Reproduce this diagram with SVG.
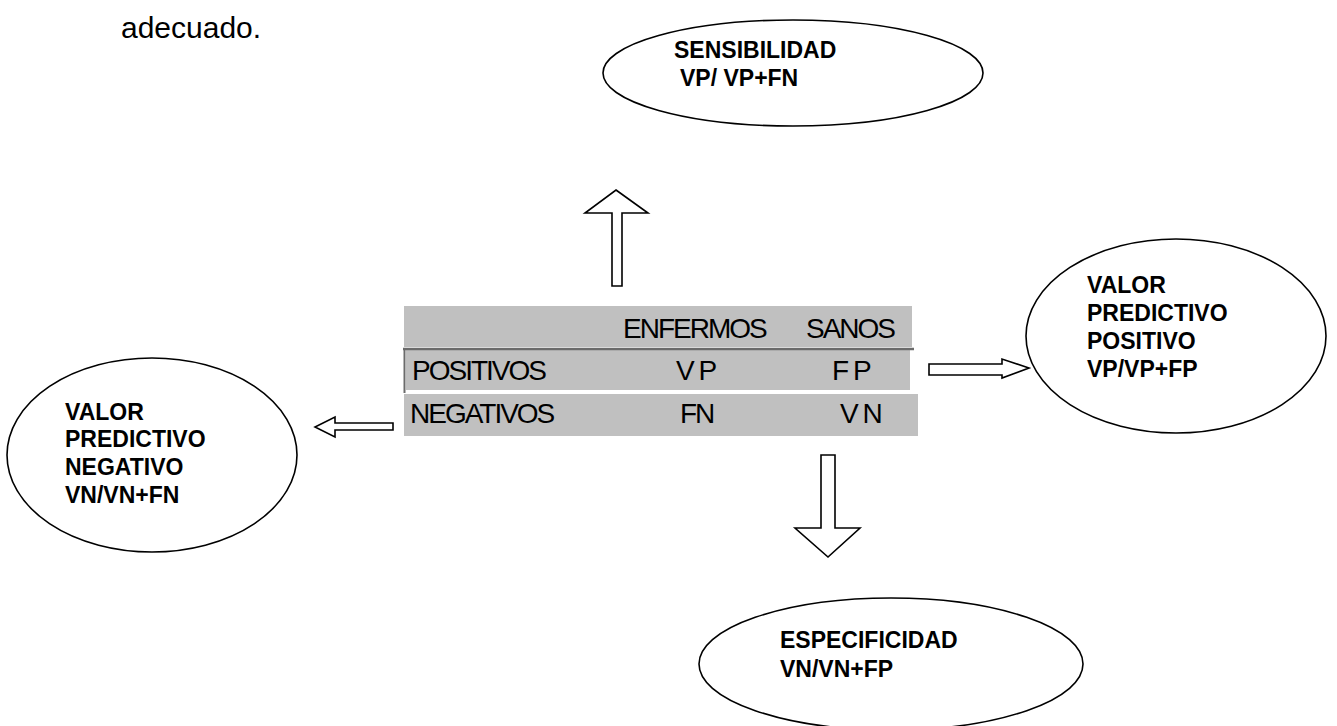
<svg xmlns="http://www.w3.org/2000/svg" width="1337" height="726" viewBox="0 0 1337 726">
<style>
.t{font-family:"Liberation Sans",Arial,sans-serif;font-size:28px;fill:#000;letter-spacing:-2px}
.b{font-family:"Liberation Sans",Arial,sans-serif;font-size:23px;font-weight:bold;fill:#000}
.p{font-family:"Liberation Sans",Arial,sans-serif;font-size:30px;fill:#000}
.e{fill:#fff;stroke:#000;stroke-width:1.6}
.a{fill:#fff;stroke:#000;stroke-width:1.6;stroke-linejoin:miter}
.c{fill:#c0c0c0}
.d{stroke:#6b6b6b;fill:none}
</style>
<text class="p" x="121" y="38">adecuado.</text>
<g id="tabla">
<rect class="c" x="404" y="306" width="508" height="41"/>
<rect class="c" x="406" y="350" width="504" height="40"/>
<rect class="c" x="404" y="394" width="514" height="42"/>
<line class="d" x1="403" y1="349" x2="914" y2="349" stroke-width="2.5"/>
<line class="d" x1="404.5" y1="348" x2="404.5" y2="393" stroke-width="2"/>
<text class="t" x="623" y="338">ENFERMOS</text>
<text class="t" x="806" y="338">SANOS</text>
<text class="t" x="412" y="380">POSITIVOS</text>
<text class="t" x="676" y="380">V P</text>
<text class="t" x="832" y="380">F P</text>
<text class="t" x="410" y="423">NEGATIVOS</text>
<text class="t" x="680" y="423">FN</text>
<text class="t" x="840" y="423">V N</text>
</g>
<g id="sensibilidad">
<ellipse class="e" cx="793" cy="73" rx="190" ry="53"/>
<text class="b" x="674" y="58">SENSIBILIDAD</text>
<text class="b" x="680" y="86">VP/ VP+FN</text>
</g>
<g id="vpp">
<ellipse class="e" cx="1176" cy="336" rx="150" ry="97"/>
<text class="b" x="1087" y="293">VALOR</text>
<text class="b" x="1087" y="321">PREDICTIVO</text>
<text class="b" x="1087" y="349">POSITIVO</text>
<text class="b" x="1087" y="377">VP/VP+FP</text>
</g>
<g id="vpn">
<ellipse class="e" cx="152" cy="455" rx="145" ry="97"/>
<text class="b" x="65" y="420">VALOR</text>
<text class="b" x="65" y="447">PREDICTIVO</text>
<text class="b" x="65" y="475">NEGATIVO</text>
<text class="b" x="65" y="503">VN/VN+FN</text>
</g>
<g id="especificidad">
<ellipse class="e" cx="891" cy="664" rx="192" ry="66"/>
<text class="b" x="780" y="648">ESPECIFICIDAD</text>
<text class="b" x="780" y="677">VN/VN+FP</text>
</g>
<g id="connectors">
<polygon class="a" points="616,190 648,213 622,213 622,286 612,286 612,213 585,213"/>
<polygon class="a" points="821,455 835,455 835,528 860,528 828,557 795,528 821,528"/>
<polygon class="a" points="929,364 1002,364 1002,359 1029,368 1002,378 1002,375 929,375"/>
<polygon class="a" points="393,423 335,423 335,417 315,427 335,437 335,430 393,430"/>
</g>
</svg>
